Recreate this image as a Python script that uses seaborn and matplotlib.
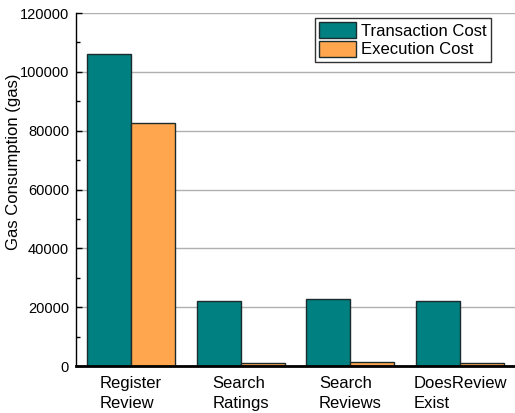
import pandas as pd
import numpy as np
import seaborn as sns
from matplotlib import pyplot as plt
from matplotlib.ticker import MultipleLocator

functions = ['Register\nReview', 'Search\nRatings', 'Search\nReviews', 'DoesReview\nExist']
transaction_cost = [106000, 22200, 22800, 22200]
execution_cost = [82700, 900, 1500, 900]

df = pd.DataFrame({
    'function': functions * 2,
    'gas': transaction_cost + execution_cost,
    'cost': ['Transaction Cost'] * 4 + ['Execution Cost'] * 4,
})

sns.set_style('white')
plt.rcParams['font.family'] = ['Liberation Sans', 'DejaVu Sans']
plt.rcParams['font.size'] = 12
plt.rcParams['text.color'] = 'black'
plt.rcParams['axes.labelcolor'] = 'black'
plt.rcParams['xtick.color'] = 'black'
plt.rcParams['ytick.color'] = 'black'

fig = plt.figure(figsize=(5.15, 4.13), dpi=100)
ax = fig.add_axes([0.1476, 0.1138, 0.8524, 0.8547])

sns.barplot(data=df, x='function', y='gas', hue='cost', ax=ax,
            palette=['#008080', '#ffa64f'], edgecolor='#1c2b2b',
            linewidth=1.0, width=0.8, saturation=1)

ax.set_xlim(-0.5, 3.5)
ax.set_ylim(0, 120000)
ax.yaxis.set_major_locator(MultipleLocator(20000))
ax.yaxis.set_minor_locator(MultipleLocator(10000))
ax.tick_params(axis='y', which='both', direction='in', left=True, labelsize=10.5,
               color='black', pad=5)
ax.tick_params(axis='y', which='major', length=4, width=1)
ax.tick_params(axis='y', which='minor', length=3, width=1)
ax.tick_params(axis='x', bottom=False, labelsize=12, pad=4)
for lab in ax.get_xticklabels():
    lab.set_multialignment('left')
    lab.set_linespacing(1.35)

ax.yaxis.grid(True, color='#b0b0b0', linewidth=1)
ax.set_axisbelow(True)
ax.get_ygridlines()[-1].set_visible(False)
ax.get_ygridlines()[0].set_visible(False)

for side in ['top', 'right']:
    ax.spines[side].set_visible(False)
ax.spines['left'].set_color('black')
ax.spines['left'].set_linewidth(1.0)
ax.spines['bottom'].set_color('black')
ax.spines['bottom'].set_linewidth(2.0)

ax.set_xlabel('')
ax.set_ylabel('Gas Consumption (gas)', fontsize=12)
ax.yaxis.set_label_coords(-0.125, 0.578)

leg = ax.legend(loc='upper right', bbox_to_anchor=(0.945, 0.985), frameon=True,
                fancybox=False, edgecolor='black', fontsize=12,
                handlelength=2.2, handleheight=1.1, handletextpad=0.3,
                borderpad=0.25, labelspacing=0.1, borderaxespad=0)
leg.get_frame().set_linewidth(1.0)

plt.savefig('out.png', dpi=100)
